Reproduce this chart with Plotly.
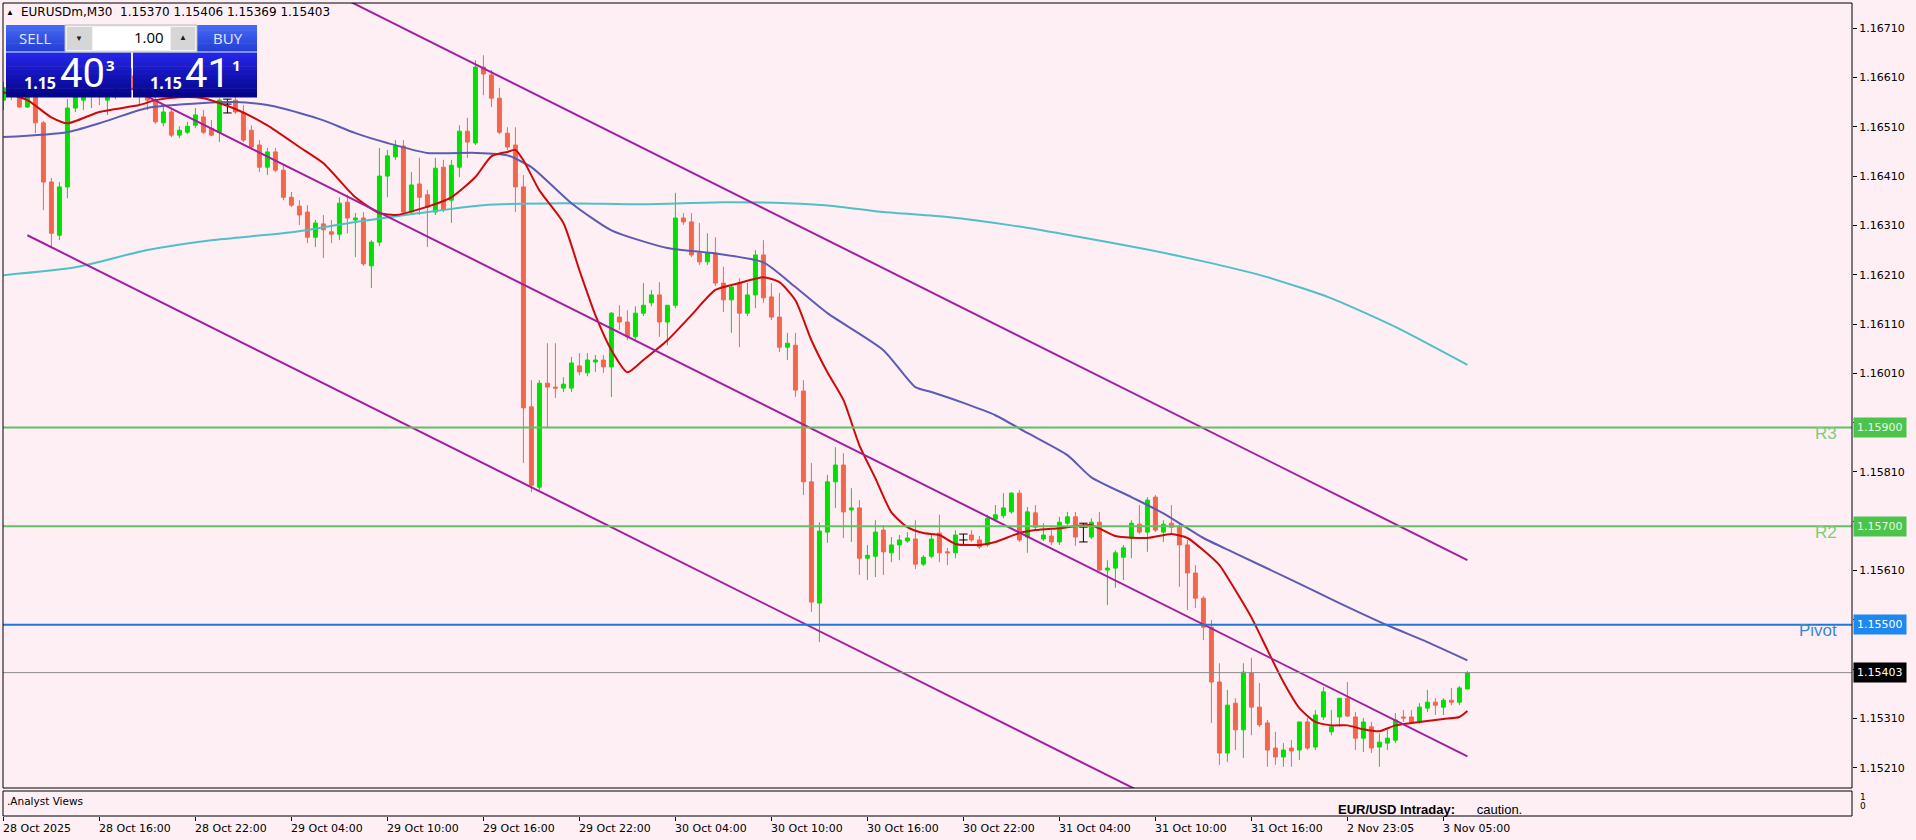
import plotly.graph_objects as go

# ---------------- DATA (EURUSDm, M30) ----------------
opens = [
    1.16564, 1.16589, 1.16574, 1.16550, 1.16572, 1.16518, 1.16398, 1.16290, 1.16388, 1.16548,
    1.16564, 1.16574, 1.16589, 1.16564, 1.16580, 1.16593, 1.16613, 1.16572, 1.16593, 1.16564,
    1.16518, 1.16540, 1.16493, 1.16499, 1.16513, 1.16530, 1.16507, 1.16499, 1.16556, 1.16564,
    1.16538, 1.16503, 1.16473, 1.16428, 1.16459, 1.16422, 1.16367, 1.16349, 1.16337, 1.16286,
    1.16313, 1.16297, 1.16292, 1.16357, 1.16321, 1.16325, 1.16228, 1.16276, 1.16410, 1.16449,
    1.16471, 1.16337, 1.16394, 1.16372, 1.16337, 1.16428, 1.16361, 1.16428, 1.16501, 1.16477,
    1.16631, 1.16615, 1.16568, 1.16497, 1.16473, 1.16388, 1.15942, 1.15779, 1.15990, 1.15982,
    1.15980, 1.15980, 1.16025, 1.16011, 1.16033, 1.16037, 1.16023, 1.16124, 1.16114, 1.16084,
    1.16132, 1.16153, 1.16169, 1.16114, 1.16148, 1.16325, 1.16317, 1.16254, 1.16236, 1.16254,
    1.16193, 1.16159, 1.16193, 1.16132, 1.16169, 1.16250, 1.16165, 1.16124, 1.16063, 1.16067,
    1.15974, 1.15790, 1.15544, 1.15688, 1.15790, 1.15824, 1.15733, 1.15737, 1.15635, 1.15639,
    1.15692, 1.15646, 1.15662, 1.15670, 1.15674, 1.15623, 1.15639, 1.15686, 1.15648, 1.15646,
    1.15672, 1.15682, 1.15672, 1.15662, 1.15714, 1.15721, 1.15729, 1.15767, 1.15678, 1.15727,
    1.15674, 1.15680, 1.15668, 1.15706, 1.15719, 1.15698, 1.15678, 1.15708, 1.15611, 1.15615,
    1.15637, 1.15676, 1.15704, 1.15688, 1.15759, 1.15688, 1.15706, 1.15698, 1.15662, 1.15605,
    1.15554, 1.15495, 1.15384, 1.15240, 1.15341, 1.15287, 1.15402, 1.15333, 1.15301, 1.15250,
    1.15232, 1.15250, 1.15246, 1.15303, 1.15252, 1.15313, 1.15283, 1.15313, 1.15351, 1.15313,
    1.15270, 1.15293, 1.15252, 1.15260, 1.15266, 1.15313, 1.15313, 1.15303, 1.15331, 1.15343,
    1.15333, 1.15347, 1.15343, 1.15370,
]
highs = [
    1.16601, 1.16597, 1.16584, 1.16580, 1.16578, 1.16522, 1.16406, 1.16398, 1.16566, 1.16580,
    1.16589, 1.16597, 1.16601, 1.16593, 1.16609, 1.16625, 1.16629, 1.16605, 1.16605, 1.16584,
    1.16554, 1.16548, 1.16511, 1.16520, 1.16548, 1.16544, 1.16524, 1.16568, 1.16566, 1.16572,
    1.16554, 1.16513, 1.16483, 1.16467, 1.16467, 1.16432, 1.16378, 1.16361, 1.16351, 1.16321,
    1.16331, 1.16321, 1.16367, 1.16372, 1.16335, 1.16337, 1.16280, 1.16467, 1.16463, 1.16483,
    1.16483, 1.16418, 1.16447, 1.16382, 1.16447, 1.16443, 1.16443, 1.16513, 1.16528, 1.16645,
    1.16655, 1.16625, 1.16589, 1.16509, 1.16509, 1.16412, 1.15996, 1.15996, 1.16071, 1.16071,
    1.16002, 1.16043, 1.16051, 1.16051, 1.16047, 1.16047, 1.16134, 1.16148, 1.16138, 1.16146,
    1.16193, 1.16179, 1.16195, 1.16148, 1.16376, 1.16335, 1.16335, 1.16315, 1.16294, 1.16286,
    1.16226, 1.16189, 1.16203, 1.16193, 1.16260, 1.16280, 1.16193, 1.16173, 1.16092, 1.16092,
    1.15996, 1.15828, 1.15708, 1.15804, 1.15860, 1.15848, 1.15777, 1.15753, 1.15662, 1.15712,
    1.15702, 1.15678, 1.15682, 1.15688, 1.15712, 1.15641, 1.15682, 1.15723, 1.15656, 1.15692,
    1.15684, 1.15692, 1.15680, 1.15723, 1.15743, 1.15767, 1.15769, 1.15773, 1.15739, 1.15743,
    1.15706, 1.15692, 1.15719, 1.15729, 1.15729, 1.15706, 1.15716, 1.15729, 1.15631, 1.15651,
    1.15662, 1.15712, 1.15743, 1.15759, 1.15763, 1.15712, 1.15743, 1.15706, 1.15672, 1.15621,
    1.15558, 1.15510, 1.15422, 1.15368, 1.15351, 1.15422, 1.15433, 1.15382, 1.15307, 1.15283,
    1.15260, 1.15266, 1.15303, 1.15311, 1.15327, 1.15374, 1.15327, 1.15351, 1.15384, 1.15323,
    1.15311, 1.15303, 1.15280, 1.15287, 1.15321, 1.15327, 1.15327, 1.15341, 1.15368, 1.15351,
    1.15351, 1.15372, 1.15376, 1.15406,
]
lows = [
    1.16544, 1.16564, 1.16548, 1.16548, 1.16497, 1.16341, 1.16266, 1.16280, 1.16365, 1.16540,
    1.16544, 1.16548, 1.16554, 1.16534, 1.16566, 1.16574, 1.16570, 1.16556, 1.16544, 1.16516,
    1.16511, 1.16489, 1.16487, 1.16495, 1.16507, 1.16495, 1.16491, 1.16479, 1.16538, 1.16536,
    1.16479, 1.16463, 1.16418, 1.16412, 1.16418, 1.16361, 1.16347, 1.16311, 1.16274, 1.16266,
    1.16244, 1.16274, 1.16280, 1.16294, 1.16246, 1.16228, 1.16183, 1.16268, 1.16367, 1.16443,
    1.16331, 1.16331, 1.16331, 1.16266, 1.16331, 1.16337, 1.16315, 1.16408, 1.16447, 1.16473,
    1.16574, 1.16550, 1.16495, 1.16463, 1.16337, 1.15828, 1.15769, 1.15773, 1.15901, 1.15960,
    1.15972, 1.15972, 1.16006, 1.16004, 1.16013, 1.16011, 1.15962, 1.16098, 1.16077, 1.16077,
    1.16126, 1.16146, 1.16084, 1.16067, 1.16142, 1.16311, 1.16246, 1.16230, 1.16230, 1.16187,
    1.16134, 1.16092, 1.16063, 1.16126, 1.16142, 1.16153, 1.16118, 1.16053, 1.16037, 1.15962,
    1.15763, 1.15526, 1.15465, 1.15666, 1.15737, 1.15676, 1.15668, 1.15601, 1.15591, 1.15597,
    1.15601, 1.15627, 1.15631, 1.15666, 1.15613, 1.15619, 1.15635, 1.15627, 1.15621, 1.15635,
    1.15662, 1.15668, 1.15654, 1.15658, 1.15710, 1.15716, 1.15725, 1.15668, 1.15646, 1.15692,
    1.15670, 1.15662, 1.15662, 1.15702, 1.15660, 1.15668, 1.15674, 1.15609, 1.15540, 1.15575,
    1.15591, 1.15635, 1.15684, 1.15648, 1.15688, 1.15668, 1.15686, 1.15577, 1.15530, 1.15534,
    1.15469, 1.15301, 1.15216, 1.15222, 1.15246, 1.15230, 1.15276, 1.15293, 1.15212, 1.15216,
    1.15212, 1.15212, 1.15226, 1.15246, 1.15246, 1.15307, 1.15276, 1.15293, 1.15313, 1.15246,
    1.15242, 1.15240, 1.15212, 1.15246, 1.15260, 1.15303, 1.15299, 1.15299, 1.15323, 1.15317,
    1.15317, 1.15337, 1.15337, 1.15369,
]
closes = [
    1.16589, 1.16574, 1.16550, 1.16572, 1.16518, 1.16398, 1.16294, 1.16388, 1.16548, 1.16572,
    1.16580, 1.16589, 1.16576, 1.16584, 1.16597, 1.16613, 1.16589, 1.16593, 1.16564, 1.16520,
    1.16540, 1.16493, 1.16503, 1.16511, 1.16534, 1.16499, 1.16493, 1.16564, 1.16556, 1.16540,
    1.16483, 1.16469, 1.16428, 1.16459, 1.16422, 1.16367, 1.16351, 1.16331, 1.16286, 1.16315,
    1.16301, 1.16292, 1.16355, 1.16325, 1.16325, 1.16232, 1.16276, 1.16410, 1.16451, 1.16471,
    1.16337, 1.16392, 1.16367, 1.16347, 1.16426, 1.16341, 1.16432, 1.16501, 1.16479, 1.16631,
    1.16617, 1.16568, 1.16499, 1.16469, 1.16388, 1.15940, 1.15783, 1.15990, 1.15982, 1.15980,
    1.15988, 1.16031, 1.16013, 1.16037, 1.16037, 1.16023, 1.16132, 1.16114, 1.16084, 1.16132,
    1.16148, 1.16169, 1.16114, 1.16148, 1.16325, 1.16317, 1.16250, 1.16236, 1.16254, 1.16193,
    1.16159, 1.16185, 1.16132, 1.16169, 1.16250, 1.16163, 1.16124, 1.16063, 1.16071, 1.15976,
    1.15790, 1.15546, 1.15690, 1.15790, 1.15824, 1.15729, 1.15737, 1.15635, 1.15641, 1.15688,
    1.15648, 1.15662, 1.15672, 1.15676, 1.15623, 1.15637, 1.15674, 1.15646, 1.15646, 1.15682,
    1.15672, 1.15672, 1.15658, 1.15716, 1.15723, 1.15737, 1.15767, 1.15672, 1.15729, 1.15698,
    1.15682, 1.15668, 1.15708, 1.15719, 1.15678, 1.15698, 1.15708, 1.15611, 1.15615, 1.15646,
    1.15656, 1.15706, 1.15688, 1.15753, 1.15692, 1.15704, 1.15698, 1.15662, 1.15605, 1.15554,
    1.15495, 1.15384, 1.15240, 1.15337, 1.15287, 1.15404, 1.15333, 1.15297, 1.15246, 1.15232,
    1.15246, 1.15244, 1.15303, 1.15250, 1.15317, 1.15364, 1.15293, 1.15351, 1.15315, 1.15270,
    1.15303, 1.15250, 1.15262, 1.15270, 1.15307, 1.15311, 1.15303, 1.15333, 1.15343, 1.15337,
    1.15347, 1.15343, 1.15372, 1.15403,
]
doji_bars = [28, 120, 135]

# moving averages (at sample bars)
red_ma_bars = [0, 3, 6, 8, 12, 17, 19, 22, 25, 29, 33, 37, 40, 44, 47, 49, 52, 56, 59, 61,
               63, 64, 65, 67, 70, 72, 74, 76, 78, 80, 83, 86, 89, 92, 95, 97, 99, 101, 103, 105,
               107, 109, 111, 113, 115, 117, 119, 122, 124, 127, 129, 132, 136, 139, 143, 146, 148, 150, 152, 154,
               156, 158, 160, 162, 164, 166, 168, 170, 172, 174, 177, 180, 182, 183]
red_ma = [1.16580, 1.16564, 1.16529, 1.16517, 1.16540, 1.16554, 1.16564, 1.16570, 1.16568, 1.16546,
          1.16513, 1.16469, 1.16436, 1.16367, 1.16335, 1.16331, 1.16343, 1.16367, 1.16408, 1.16450,
          1.16459, 1.16463, 1.16442, 1.16381, 1.16315, 1.16219, 1.16128, 1.16057, 1.16012, 1.16037,
          1.16077, 1.16128, 1.16179, 1.16193, 1.16205, 1.16195, 1.16158, 1.16077, 1.16012, 1.15956,
          1.15864, 1.15797, 1.15728, 1.15698, 1.15686, 1.15682, 1.15664, 1.15662, 1.15668, 1.15686,
          1.15692, 1.15696, 1.15702, 1.15680, 1.15676, 1.15684, 1.15676, 1.15651, 1.15621, 1.15570,
          1.15515, 1.15449, 1.15384, 1.15331, 1.15303, 1.15296, 1.15296, 1.15288, 1.15284, 1.15296,
          1.15303, 1.15309, 1.15313, 1.15325]
blue_ma_bars = [0, 8, 12, 18, 25, 29, 33, 37, 40, 44, 48, 53, 59, 63, 66, 71, 76, 83, 89, 95,
                99, 103, 110, 114, 116, 120, 124, 128, 133, 136, 141, 145, 150, 154, 161, 167, 173, 178, 183]
blue_ma = [1.16489, 1.16499, 1.16517, 1.16548, 1.16558, 1.16560, 1.16554, 1.16538, 1.16523, 1.16497,
           1.16477, 1.16457, 1.16457, 1.16452, 1.16428, 1.16355, 1.16300, 1.16264, 1.16253, 1.16235,
           1.16185, 1.16132, 1.16057, 1.15982, 1.15972, 1.15950, 1.15925, 1.15889, 1.15844, 1.15799,
           1.15759, 1.15726, 1.15676, 1.15645, 1.15591, 1.15544, 1.15499, 1.15465, 1.15428]
teal_ma_bars = [0, 9, 18, 26, 36, 44, 52, 60, 70, 80, 90, 98, 104, 110, 118, 126, 134, 142, 150, 158,
                166, 174, 183]
teal_ma = [1.16209, 1.16225, 1.16260, 1.16280, 1.16296, 1.16317, 1.16335, 1.16351, 1.16355, 1.16353,
           1.16357, 1.16355, 1.16349, 1.16337, 1.16327, 1.16310, 1.16288, 1.16264, 1.16237, 1.16205,
           1.16162, 1.16104, 1.16027]

# equidistant channel (anchor bars and prices)
channel_bars = [3, 183]
channel_upper = [1.17091, 1.15631]
channel_middle = [1.16693, 1.15233]
channel_lower = [1.16290, 1.14830]

# pivot levels
level_names = ["R3", "R2", "Pivot"]
level_prices = [1.15900, 1.15700, 1.15500]
last_price = 1.15403
symbol_title = "EURUSDm,M30"
header_ohlc = ["1.15370", "1.15406", "1.15369", "1.15403"]
bid_text = "1.15403"
ask_text = "1.15411"
lot_text = "1.00"

price_ticks = [1.15210, 1.15310, 1.15410, 1.15510, 1.15610, 1.15710, 1.15810, 1.15910,
               1.16010, 1.16110, 1.16210, 1.16310, 1.16410, 1.16510, 1.16610, 1.16710]
time_tick_bars = [0, 12, 24, 36, 48, 60, 72, 84, 96, 108, 120, 132, 144, 156, 168, 180]
time_tick_labels = ["28 Oct 2025", "28 Oct 16:00", "28 Oct 22:00", "29 Oct 04:00", "29 Oct 10:00",
                    "29 Oct 16:00", "29 Oct 22:00", "30 Oct 04:00", "30 Oct 10:00", "30 Oct 16:00",
                    "30 Oct 22:00", "31 Oct 04:00", "31 Oct 10:00", "31 Oct 16:00", "2 Nov 23:05",
                    "3 Nov 05:00"]

n = len(opens)
assert len(highs) == n and len(lows) == n and len(closes) == n
assert len(red_ma) == len(red_ma_bars) and len(blue_ma) == len(blue_ma_bars) and len(teal_ma) == len(teal_ma_bars)
bars = list(range(n))

# ---------------- geometry / style ----------------
W, H = 1916, 840
ML, MR, MT, MB = 3, 64, 3, 24
PW = W - ML - MR
PH = H - MT - MB
MAIN_BOTTOM = 788
SUB_TOP = 791
BAR_PX = 8
X0 = -0.05
X1 = X0 + PW / BAR_PX
Y_TOP = 1.16761
Y_BOT = 1.15169

BG = "#fdeff4"
GREEN = "#00e000"
RED = "#f2664c"
FONT_UI = "DejaVu Sans"
NARROW = "Liberation Sans Narrow, Roboto, sans-serif"


def fx(x):
    return (x - ML) / PW


def fy(y):
    return (H - MB - y) / PH


fig = go.Figure()

# candles (doji drawn separately in black)
o_m = [None if i in doji_bars else v for i, v in enumerate(opens)]
h_m = [None if i in doji_bars else v for i, v in enumerate(highs)]
l_m = [None if i in doji_bars else v for i, v in enumerate(lows)]
c_m = [None if i in doji_bars else v for i, v in enumerate(closes)]
fig.add_trace(go.Candlestick(
    x=bars, open=o_m, high=h_m, low=l_m, close=c_m,
    increasing=dict(line=dict(color=GREEN, width=1), fillcolor=GREEN),
    decreasing=dict(line=dict(color=RED, width=1), fillcolor=RED),
    whiskerwidth=0, hoverinfo="skip", showlegend=False,
    xaxis="x", yaxis="y"))

dx, dy = [], []
for i in doji_bars:
    dx += [i, i, None]
    dy += [lows[i], highs[i], None]
fig.add_trace(go.Scatter(x=dx, y=dy, mode="lines", line=dict(color="black", width=1),
                         hoverinfo="skip", showlegend=False))
mx, my = [], []
for i in doji_bars:
    mx += [i, i, i]
    my += [highs[i], lows[i], closes[i]]
fig.add_trace(go.Scatter(x=mx, y=my, mode="markers",
                         marker=dict(symbol="line-ew", size=6, line=dict(color="black", width=1)),
                         hoverinfo="skip", showlegend=False))

# moving averages
for bx, vals, col in [(teal_ma_bars, teal_ma, "#4fc0c6"),
                      (blue_ma_bars, blue_ma, "#5c5cb4"),
                      (red_ma_bars, red_ma, "#cc0a0a")]:
    fig.add_trace(go.Scatter(x=bx, y=vals, mode="lines",
                             line=dict(color=col, width=2, shape="spline", smoothing=0.6),
                             hoverinfo="skip", showlegend=False))

# channel
for vals in (channel_upper, channel_middle, channel_lower):
    fig.add_trace(go.Scatter(x=channel_bars, y=vals, mode="lines",
                             line=dict(color="#a0209e", width=2),
                             hoverinfo="skip", showlegend=False))

# dummy on the sub window so its axes render
fig.add_trace(go.Scatter(x=[X0], y=[0.5], xaxis="x2", yaxis="y2", mode="markers",
                         marker=dict(opacity=0), hoverinfo="skip", showlegend=False))

shapes = []
annotations = []

# level lines
level_colors = ["#62c062", "#62c062", "#1f78d8"]
level_text_colors = ["#7ccc7c", "#7ccc7c", "#3a88d8"]
for name, p, col in zip(level_names, level_prices, level_colors):
    shapes.append(dict(type="line", xref="paper", yref="y", x0=0, x1=1, y0=p, y1=p,
                       line=dict(color=col, width=2), layer="above"))
shapes.append(dict(type="line", xref="paper", yref="y", x0=0, x1=1, y0=last_price, y1=last_price,
                   line=dict(color="#8c8c8c", width=1), layer="above"))

for name, p, tc in zip(level_names, level_prices, level_text_colors):
    annotations.append(dict(text=name, xref="paper", yref="y", x=fx(1839), y=p, xanchor="right",
                            yanchor="middle", yshift=-6, showarrow=False,
                            font=dict(family="Liberation Sans", size=17, color=tc)))

# price tags on the axis
tag_bg = ["#4cc44c", "#4cc44c", "#1e88f0"]
tag_fg = ["#e4f8e4", "#e4f8e4", "#ffffff"]
for p, bg, fg in zip(level_prices, tag_bg, tag_fg):
    annotations.append(dict(text=f"{p:.5f}", xref="paper", yref="y", x=fx(1853), y=p,
                            xanchor="left", yanchor="middle", showarrow=False, bgcolor=bg,
                            borderpad=3, font=dict(family=FONT_UI, size=11, color=fg)))
annotations.append(dict(text=f"{last_price:.5f}", xref="paper", yref="y", x=fx(1853), y=last_price,
                        xanchor="left", yanchor="middle", showarrow=False, bgcolor="#000000",
                        borderpad=3, font=dict(family=FONT_UI, size=11, color="white")))

# frames
shapes.append(dict(type="rect", xref="paper", yref="paper", x0=0, x1=1, y0=fy(MAIN_BOTTOM), y1=1,
                   line=dict(color="black", width=1), layer="above"))
shapes.append(dict(type="rect", xref="paper", yref="paper", x0=0, x1=1, y0=0, y1=fy(SUB_TOP),
                   line=dict(color="black", width=1), layer="above"))


# trading panel
def rect(x0, y0, x1, y1, fill, line=None):
    shapes.append(dict(type="rect", xref="paper", yref="paper", x0=fx(x0), x1=fx(x1),
                       y0=fy(y1), y1=fy(y0), fillcolor=fill,
                       line=dict(width=1 if line else 0, color=line or fill), layer="above"))


def hexrgb(c):
    return tuple(int(c[k:k + 2], 16) for k in (1, 3, 5))


def grad(x0, y0, x1, y1, ctop, cbot, steps=10):
    a, b = hexrgb(ctop), hexrgb(cbot)
    hstep = (y1 - y0) / steps
    for s in range(steps):
        t = s / (steps - 1)
        c = "#%02x%02x%02x" % tuple(round(a[k] + (b[k] - a[k]) * t) for k in range(3))
        rect(x0, y0 + s * hstep, x1, y0 + (s + 1) * hstep + 0.6, c)


grad(6, 25, 65, 51, "#4668f4", "#2440d6")
grad(197, 25, 257, 51, "#4668f4", "#2440d6")
grad(6, 53, 131, 97, "#2424e6", "#05058c")
grad(133, 53, 257, 97, "#2424e6", "#05058c")
rect(6, 51, 131, 53, "#7f8ff2")
rect(133, 51, 257, 53, "#7f8ff2")
rect(65, 25, 197, 52, "#f2f2f2", "#b8b8b8")
rect(93, 27, 170, 50, "#ffffff")
rect(67, 27, 92, 50, "#d6d6d6")
rect(171, 27, 195, 50, "#d6d6d6")


def ann_px(text, x, y, size, color, family="Noto Sans", xanchor="center", bold=False):
    annotations.append(dict(text=f"<b>{text}</b>" if bold else text, xref="paper", yref="paper",
                            x=fx(x), y=fy(y), xanchor=xanchor, yanchor="middle", showarrow=False,
                            font=dict(family=family, size=size, color=color)))


ann_px("SELL", 35, 38, 15, "#e2e8ff", family="Open Sans")
ann_px("BUY", 228, 38, 15, "#e2e8ff", family="Open Sans")
ann_px("▼", 79, 38, 8, "#202020")
ann_px("▲", 183, 37, 8, "#202020")
ann_px(lot_text, 166, 37, 15, "#000000", family="Open Sans", xanchor="right")
for txt, x_small, x_big, x_sup in [(bid_text, 40, 82, 110), (ask_text, 166, 207, 236)]:
    ann_px(txt[:4], x_small, 83, 16, "#ffffff", family="Noto Sans", bold=True)
    ann_px(txt[4:6], x_big, 73, 40, "#ffffff", family=NARROW)
    ann_px(txt[6], x_sup, 65, 15, "#ffffff", family="Noto Sans", bold=True)

# header
ann_px("▲", 10, 12, 8, "#000000")
ann_px(symbol_title + "  " + " ".join(header_ohlc), 19, 12, 12, "#000000", family=FONT_UI,
       xanchor="left")

# sub window texts
ann_px(".Analyst Views", 5, 801, 10.5, "#000000", family=FONT_UI, xanchor="left")
ann_px("<b>EUR/USD Intraday:</b>&nbsp;&nbsp;&nbsp;&nbsp;&nbsp;&nbsp;caution.", 1336, 809, 13,
       "#000000", family="Liberation Sans", xanchor="left")
ann_px("1", 1858, 797, 9, "#000000", family=FONT_UI, xanchor="left")
ann_px("0", 1858, 806, 9, "#000000", family=FONT_UI, xanchor="left")

# time labels (left aligned at ticks)
for b, lab in zip(time_tick_bars, time_tick_labels):
    annotations.append(dict(text=lab, xref="x2", yref="paper", x=b, y=fy(828), xanchor="left",
                            yanchor="middle", showarrow=False, xshift=-2,
                            font=dict(family=FONT_UI, size=11, color="#000000")))

fig.update_layout(
    width=W, height=H,
    margin=dict(l=ML, r=MR, t=MT, b=MB, pad=0),
    paper_bgcolor=BG, plot_bgcolor=BG,
    showlegend=False, hovermode=False,
    xaxis=dict(domain=[0, 1], range=[X0, X1], anchor="y", showticklabels=False, showgrid=False,
               zeroline=False, showline=False, ticks="", rangeslider=dict(visible=False), fixedrange=True),
    yaxis=dict(domain=[fy(MAIN_BOTTOM), 1], range=[Y_BOT, Y_TOP], anchor="x", side="right",
               tickvals=price_ticks, ticktext=[f"{v:.5f}" for v in price_ticks],
               ticks="outside", ticklen=4, tickcolor="#000000", showgrid=False, zeroline=False,
               showline=False, tickfont=dict(family=FONT_UI, size=11, color="#000000")),
    xaxis2=dict(domain=[0, 1], range=[X0, X1], anchor="y2", tickvals=time_tick_bars,
                ticks="outside", ticklen=4, tickcolor="#000000", showticklabels=False,
                showgrid=False, zeroline=False, showline=False),
    yaxis2=dict(domain=[0, fy(SUB_TOP)], range=[0, 1], anchor="x2", visible=False),
    shapes=shapes,
    annotations=annotations,
)

fig.write_html("out.html", config={"displayModeBar": False, "staticPlot": True},
               post_script="document.body.style.margin='0';document.body.style.overflow='hidden';")
